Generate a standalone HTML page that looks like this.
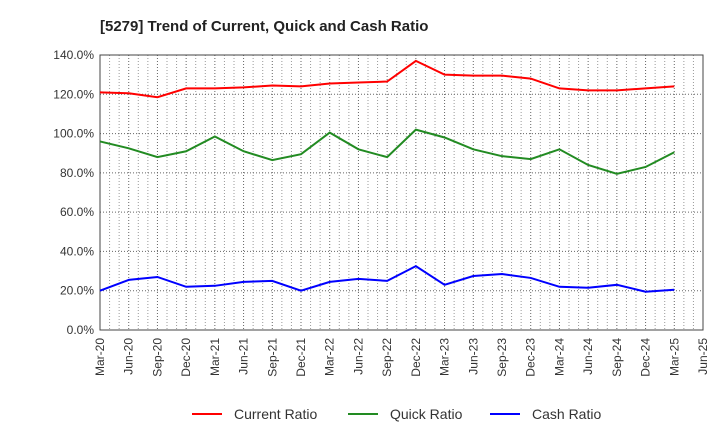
<!DOCTYPE html>
<html><head><meta charset="utf-8"><style>
body{margin:0;background:#fff;font-family:"Liberation Sans",sans-serif}
svg text{font-family:"Liberation Sans",sans-serif}
</style></head><body>
<svg id="c" width="720" height="440">
<text x="100" y="31" font-size="15" font-weight="bold" fill="#222">[5279]  Trend of Current, Quick and Cash Ratio</text>
<g id="grid"></g><g id="axes"></g><g id="series"></g><g id="legend"></g>
</svg>
<script>
const categories=["Mar-20","Jun-20","Sep-20","Dec-20","Mar-21","Jun-21","Sep-21","Dec-21","Mar-22","Jun-22","Sep-22","Dec-22","Mar-23","Jun-23","Sep-23","Dec-23","Mar-24","Jun-24","Sep-24","Dec-24","Mar-25","Jun-25"];
const currentRatio=[121,120.5,118.5,123,123,123.5,124.5,124,125.5,126,126.5,137,130,129.5,129.5,128,123,122,122,123,124];
const quickRatio=[96,92.5,88,91,98.5,91,86.5,89.5,100.5,92,88,102,98,92,88.5,87,92,84,79.5,83,90.5];
const cashRatio=[20,25.5,27,22,22.5,24.5,25,20,24.5,26,25,32.5,23,27.5,28.5,26.5,22,21.5,23,19.5,20.5];
const yTicks=[0,20,40,60,80,100,120,140];
const NS="http://www.w3.org/2000/svg";
const L=100,R=703,T=55,B=330;
const x=i=>L+(R-L)*i/(categories.length-1);
const y=v=>B-(B-T)*v/140;
function mk(tag,attrs,parent){const e=document.createElementNS(NS,tag);for(const k in attrs)e.setAttribute(k,attrs[k]);document.getElementById(parent).appendChild(e);return e;}
for(let m=1;m<(categories.length-1)*3;m++){if(m%3===0)continue;const xx=L+(R-L)*m/((categories.length-1)*3);
const l=mk("line",{x1:xx,x2:xx,y1:T,y2:B,stroke:"#999","stroke-dasharray":"1,2","stroke-width":1},"grid");

}
categories.forEach((c,i)=>{const l=mk("line",{x1:x(i),x2:x(i),y1:T,y2:B,stroke:"#666","stroke-dasharray":"1,2","stroke-width":1},"grid");


const t=mk("text",{x:0,y:0,"font-size":12,fill:"#333","text-anchor":"end",transform:`translate(${x(i)+4},${B+8}) rotate(-90)`},"axes");t.textContent=c;

});
yTicks.forEach(v=>{const l=mk("line",{x1:L,x2:R,y1:y(v),y2:y(v),stroke:"#666","stroke-dasharray":"1,2","stroke-width":1},"grid");


const t=mk("text",{x:L-6,y:y(v)+4,"font-size":12,fill:"#333","text-anchor":"end"},"axes");t.textContent=v.toFixed(1)+"%";

});
const frame=mk("rect",{x:L,y:T,width:R-L,height:B-T,fill:"none",stroke:"#444","stroke-width":1},"axes");


[[currentRatio,"#ff0000","current-ratio-line"],[quickRatio,"#228b22","quick-ratio-line"],[cashRatio,"#0000ff","cash-ratio-line"]].forEach(([d,col,n])=>{
const p=mk("polyline",{points:d.map((v,i)=>x(i)+","+y(v)).join(" "),fill:"none",stroke:col,"stroke-width":2},"series");

});
[["Current Ratio","#ff0000",192],["Quick Ratio","#228b22",348],["Cash Ratio","#0000ff",490]].forEach(([lab,col,lx])=>{
const l=mk("line",{x1:lx,x2:lx+30,y1:414,y2:414,stroke:col,"stroke-width":2},"legend");


const t=mk("text",{x:lx+42,y:419,"font-size":14,fill:"#333"},"legend");t.textContent=lab;

});
</script>
</body></html>
